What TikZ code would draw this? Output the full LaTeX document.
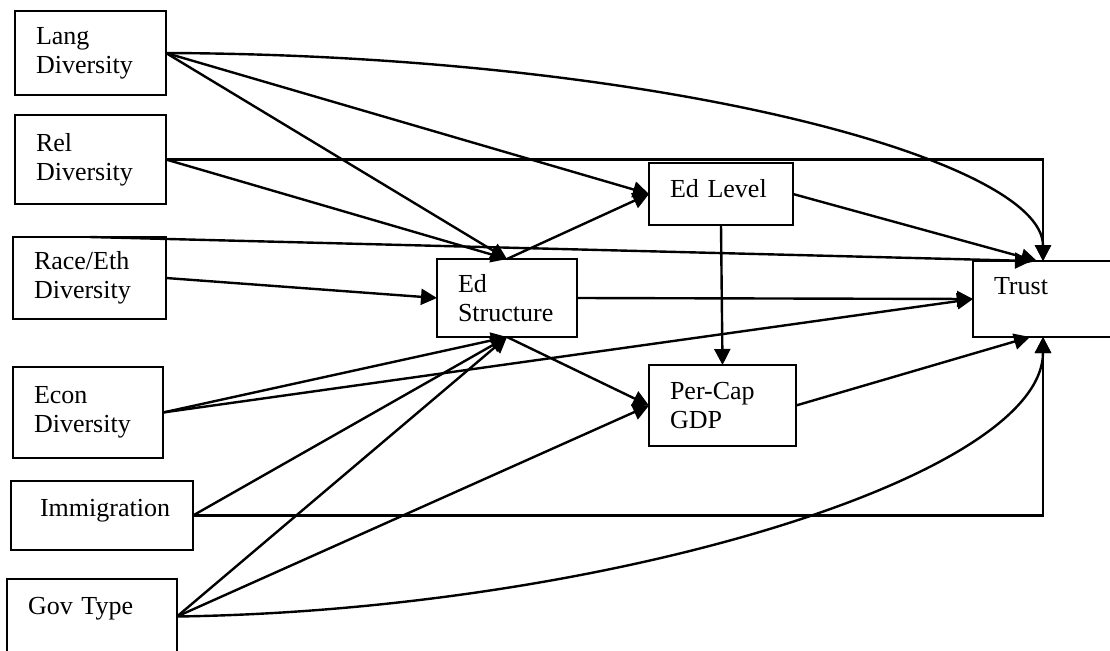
\documentclass[tikz,border=0pt]{standalone}
\usepackage{fontspec}
\setmainfont{Liberation Serif}
\usepackage{xcolor}
\usepackage{tikz}
\usetikzlibrary{positioning}
\usetikzlibrary{arrows.meta}

\begin{document}
\begin{tikzpicture}[
    x=1pt, y=-1pt, line width=2.4pt,
    >={Triangle[length=16pt,width=16pt]},
    box/.style={rectangle, draw=black, line width=2pt, align=left, anchor=north west, outer sep=0pt, inner xsep=21pt, inner ysep=0pt, font=\fontsize{26}{29}\selectfont}
]
\clip (0,0) rectangle (1110,650);

\node[box, text width=109pt, minimum width=151pt, minimum height=84pt] (1_1) at (15,11) {Lang\\Diversity};
\node[box, text width=109pt, minimum width=151pt, minimum height=89pt] (2_1) [below right=20pt and 0pt of 1_1.south west] {Rel\\Diversity};
\node[box, text width=111pt, minimum width=153pt, minimum height=82pt] (3_1) [below right=33pt and -2pt of 2_1.south west] {Race/Eth\\Diversity};
\node[box, text width=108pt, minimum width=150pt, minimum height=91pt] (4_1) [below right=48pt and 0pt of 3_1.south west] {Econ\\Diversity};
\node[box, text width=124pt, minimum width=182pt, minimum height=69pt, text depth=15pt, inner xsep=29pt] (5_1) [below right=23pt and -2pt of 4_1.south west] {Immigration};
\node[box, text width=128pt, minimum width=170pt, minimum height=75pt, text depth=21pt] (6_1) [below right=29pt and -4pt of 5_1.south west] {Gov Type};

\node[box, text width=98pt, minimum width=140pt, minimum height=78pt] (3_2) at (437,259) {Ed\\Structure};
\node[box, text width=102pt, minimum width=144pt, minimum height=62pt, text depth=12pt] (2_3) at (649,163) {Ed Level};
\node[box, text width=105pt, minimum width=147pt, minimum height=81pt] (4_3) [below right=140pt and 0pt of 2_3.south west] {Per-Cap\\GDP};
\node[box, text width=98pt, minimum width=140pt, minimum height=76pt, text depth=26pt] (3_4) at (973,261) {Trust};

% Lang
\draw[->] (1_1.east) to (3_2.north);
\draw[->] (1_1.east) to (2_3.west);
\draw[->] (1_1.east) .. controls +(494,2) and +(0,-101) .. (3_4.north);

% Rel
\draw[->] (2_1.east) -| (3_4.north);
\draw[->] (2_1.east) to (3_2.north);

% Race/Eth
\draw[->] (3_1.east) to (3_2.west);
\draw[->] (3_1.north) to ([xshift=-12pt]3_4.north);

% Econ
\draw[->] (4_1.east) to (3_2.south);
\draw[->] (4_1.east) to (3_4.west);

% Immigration
\draw[->] (5_1.east) to (3_2.south);
\draw[->] (5_1.east) -| (3_4.south);

% Gov
\draw[->] (6_1.east) to (3_2.south);
\draw[->] (6_1.east) to (4_3.west);
\draw[->] (6_1.east) .. controls +(423,-6) and +(0,141) .. (3_4.south);

\draw[->] (3_2.north) to (2_3.west);
\draw[->] (3_2.south) to (4_3.west);
\draw[->] (3_2.east) to (3_4.west);
\draw[->] (2_3.south) to (4_3.north);
\draw[->] (2_3.east) to ([xshift=-6pt]3_4.north);
\draw[->] (4_3.east) to ([xshift=-13pt]3_4.south);

\end{tikzpicture}
\end{document}
